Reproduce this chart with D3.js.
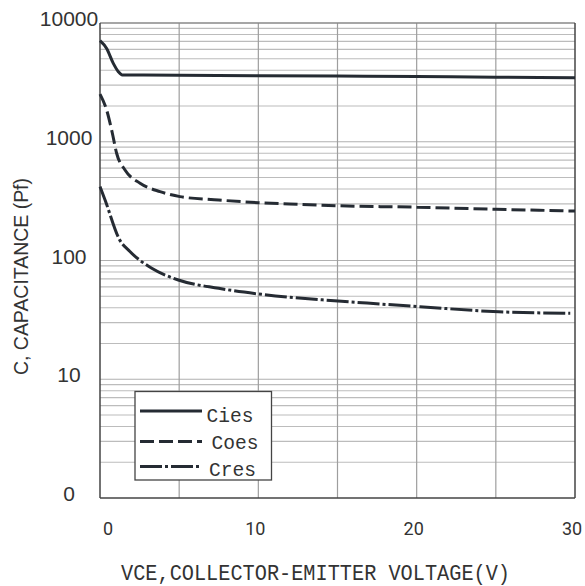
<!DOCTYPE html>
<html>
<head>
<meta charset="utf-8">
<script src="https://cdn.jsdelivr.net/npm/d3@7"></script>
<style>
html,body{margin:0;padding:0;background:#fff;}
svg{display:block;}
</style>
</head>
<body>
<svg id="chart" width="585" height="586"></svg>
<script>
// ---- data ----
const ciesV = [0, 0.42, 0.84, 1.16, 1.41, 5, 10, 15, 20, 25, 30];
const ciesC = [7100, 6100, 4570, 3890, 3650, 3630, 3600, 3570, 3540, 3500, 3460];
const coesV = [0, 0.42, 0.78, 1.05, 1.58, 2.53, 3.79, 5.05, 7.5, 10, 12.6, 15, 20, 25, 30];
const coesC = [2520, 1850, 1180, 800, 578, 447, 380, 345, 323, 307, 297, 289, 281, 270, 261];
const cresV = [0, 0.32, 1.22, 1.89, 3.27, 4.95, 7.5, 10.2, 14.8, 17.7, 20.2, 25.2, 29.7];
const cresC = [419, 323, 151, 119, 86, 68.5, 58.3, 51.9, 45.8, 43, 40.8, 37, 35.9];
const seriesNames = ["Cies", "Coes", "Cres"];
const xTicks = [0, 10, 20, 30];
const xGrid = [5, 10, 15, 20, 25];
const yTicks = [1, 10, 100, 1000, 10000];
const yTickLabels = ["0", "10", "100", "1000", "10000"];
const xTitle = "VCE,COLLECTOR-EMITTER VOLTAGE(V)";
const yTitle = "C, CAPACITANCE (Pf)";

// ---- layout ----
const L = 100, R = 575, T = 23, B = 498;
const svg = d3.select("#chart");
const x = d3.scaleLinear().domain([0, 30]).range([L, R]);
const y = d3.scaleLog().domain([1, 10000]).range([B, T]);
const ink = "#252b33";

// horizontal minor grid
const minor = [];
for (let d = 1; d < 10000; d *= 10) for (let k = 2; k <= 9; k++) minor.push(d * k);
svg.append("g").selectAll("line").data(minor).join("line")
  .attr("x1", L).attr("x2", R)
  .attr("y1", d => y(d)).attr("y2", d => y(d))
  .attr("stroke", "#bcbcbc").attr("stroke-width", 1.2);
svg.append("g").selectAll("line").data(yTicks.slice(1, 4)).join("line")
  .attr("x1", L).attr("x2", R)
  .attr("y1", d => y(d)).attr("y2", d => y(d))
  .attr("stroke", "#b0b0b0").attr("stroke-width", 1.2);
// vertical grid
svg.append("g").selectAll("line").data(xGrid).join("line")
  .attr("x1", d => x(d)).attr("x2", d => x(d))
  .attr("y1", T).attr("y2", B)
  .attr("stroke", "#9e9e9e").attr("stroke-width", 1.2);

// frame
svg.append("line").attr("x1", L).attr("x2", R).attr("y1", T).attr("y2", T).attr("stroke", "#888").attr("stroke-width", 1.5);
svg.append("line").attr("x1", L).attr("x2", L).attr("y1", T).attr("y2", B).attr("stroke", "#444").attr("stroke-width", 1.5);
svg.append("line").attr("x1", L).attr("x2", R).attr("y1", B).attr("y2", B).attr("stroke", "#444").attr("stroke-width", 1.5);
svg.append("line").attr("x1", R).attr("x2", R).attr("y1", T).attr("y2", B).attr("stroke", "#444").attr("stroke-width", 1.5);

// curves
const line = d3.line().x(d => x(d[0])).y(d => y(d[1])).curve(d3.curveMonotoneX);
const dashes = [null, "14,5", "22,3,3,3"];
const data = [d3.zip(ciesV, ciesC), d3.zip(coesV, coesC), d3.zip(cresV, cresC)];
data.forEach((pts, i) => {
  svg.append("path").datum(pts).attr("d", line)
    .attr("fill", "none").attr("stroke", ink).attr("stroke-width", 3)
    .attr("stroke-dasharray", dashes[i]);
});

// y tick labels
svg.append("g").selectAll("text").data(yTicks).join("text")
  .attr("x", 69).attr("y", d => y(d) + 3)
  .attr("text-anchor", "middle")
  .attr("font-family", "Liberation Sans, Arial, sans-serif")
  .attr("font-size", 21).attr("fill", "#333")
  .text((d, i) => yTickLabels[i]);

// x tick labels
svg.append("g").selectAll("text").data(xTicks).join("text")
  .attr("x", d => x(d) + (d === 0 ? 8 : -3)).attr("y", 535)
  .attr("text-anchor", "middle")
  .attr("font-family", "Roboto, Liberation Sans, Arial, sans-serif")
  .attr("font-size", 18).attr("fill", "#333")
  .text(d => d);

// x title
svg.append("text").attr("x", 121).attr("y", 580)
  .attr("font-family", "Liberation Mono, monospace")
  .attr("font-size", 22).attr("fill", "#333")
  .attr("textLength", 389).attr("lengthAdjust", "spacingAndGlyphs")
  .text(xTitle);

// y title
svg.append("text")
  .attr("transform", "translate(28,375) rotate(-90)")
  .attr("font-family", "Liberation Sans, Arial, sans-serif")
  .attr("font-size", 21).attr("fill", "#333")
  .attr("textLength", 197).attr("lengthAdjust", "spacingAndGlyphs")
  .text(yTitle);

// legend
const lg = svg.append("g");
lg.append("rect").attr("x", 135).attr("y", 391.5).attr("width", 136.5).attr("height", 88.5)
  .attr("fill", "#fff").attr("stroke", "#444").attr("stroke-width", 1.3);
const legY = [411, 441.5, 466.5];
const legTx = [206.5, 211.5, 209];
const legBase = [421.7, 449.3, 476];
seriesNames.forEach((n, i) => {
  lg.append("line").attr("x1", 140).attr("x2", 202).attr("y1", legY[i]).attr("y2", legY[i])
    .attr("stroke", ink).attr("stroke-width", 3).attr("stroke-dasharray", dashes[i]);
  lg.append("text").attr("x", legTx[i]).attr("y", legBase[i])
    .attr("font-family", "Liberation Mono, monospace").attr("font-size", 21)
    .attr("textLength", 47).attr("lengthAdjust", "spacingAndGlyphs")
    .attr("fill", "#333").text(n);
});
</script>
</body>
</html>
